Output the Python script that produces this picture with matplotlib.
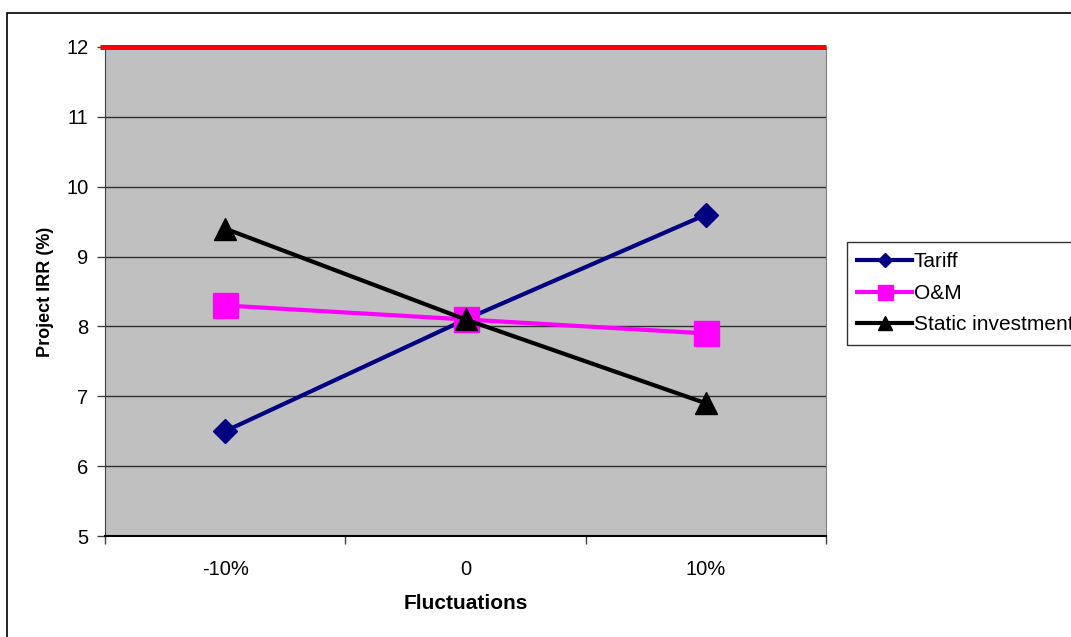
import matplotlib.pyplot as plt
from matplotlib.patches import Rectangle

plt.rcParams['font.family'] = ['Liberation Sans', 'DejaVu Sans']

# chart data
categories = ['-10%', '0', '10%']
tariff = [6.5, 8.1, 9.6]
om = [8.3, 8.1, 7.9]
static_inv = [9.4, 8.1, 6.9]
benchmark = 12

W, H = 1071, 637
fig = plt.figure(figsize=(W / 100, H / 100), dpi=100)
ax = fig.add_axes([105 / W, 1 - 536 / H, (826 - 105) / W, (536 - 47) / H])
ax.set_facecolor('#C0C0C0')

x = list(range(len(categories)))

# benchmark line at 12
ax.plot([-0.52, len(categories) - 0.5], [benchmark, benchmark], color='#FF0000',
        lw=3.6, clip_on=False, zorder=4, solid_capstyle='butt')

ax.plot(x, tariff, color='#000080', lw=3, marker='D', ms=12, label='Tariff', zorder=5)
ax.plot(x, om, color='#FF00FF', lw=3, marker='s', ms=18, label='O&M', zorder=6)
ax.plot(x, static_inv, color='black', lw=3, marker='^', ms=16, label='Static investment', zorder=7)

ax.set_xlim(-0.5, len(categories) - 0.5)
ax.set_ylim(5, 12)
ax.set_yticks(range(5, 13))
ax.yaxis.grid(True, color='#303030', lw=1)
ax.set_axisbelow(True)

# category labels centered, ticks between categories
ax.set_xticks([i - 0.5 for i in range(len(categories) + 1)])
ax.set_xticklabels([])
ax.set_xticks(x, minor=True)
ax.set_xticklabels(categories, minor=True)
ax.tick_params(axis='x', which='minor', length=0, pad=17, labelsize=14.5)
ax.tick_params(axis='x', which='major', length=6, width=1, color='#404040')
ax.tick_params(axis='y', length=6, width=1, color='#404040', labelsize=14.5, pad=6)

ax.spines['top'].set_visible(False)
ax.spines['right'].set_color('#808080')
ax.spines['left'].set_color('#404040')
ax.spines['bottom'].set_color('black')
ax.spines['bottom'].set_linewidth(1.5)

ax.set_xlabel('Fluctuations', fontsize=15, fontweight='bold', labelpad=11)
ax.set_ylabel('Project IRR (%)', fontsize=13, fontweight='bold', labelpad=8.5)

leg = fig.legend(loc='upper left', bbox_to_anchor=(847 / W, 1 - 242 / H),
                 borderaxespad=0, fontsize=15, frameon=True, fancybox=False,
                 edgecolor='black', handlelength=2.6, handletextpad=0.1,
                 labelspacing=0.6, borderpad=0.5, markerscale=0.6)
leg.get_frame().set_linewidth(1)

# outer chart border
fig.patches.append(Rectangle((7 / W, -0.1), 2, 1.1 - 13 / H, transform=fig.transFigure,
                             fill=False, edgecolor='black', lw=1.2))

fig.savefig('out.png', dpi=100)
